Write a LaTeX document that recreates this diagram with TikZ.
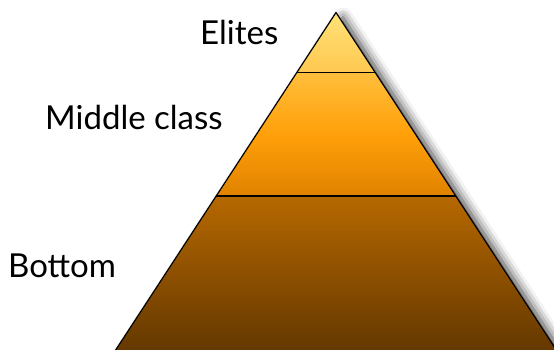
\documentclass[tikz,border=0pt]{standalone}
\usepackage{fontspec}
\setmainfont{Lato}
\usetikzlibrary{calc, shadows.blur}

\definecolor{eliteTop}{RGB}{255,226,120}
\definecolor{eliteBot}{RGB}{255,200,80}
\definecolor{midTop}{RGB}{255,190,60}
\definecolor{midMid}{RGB}{255,160,10}
\definecolor{midBot}{RGB}{225,130,0}
\definecolor{lowTop}{RGB}{182,104,0}
\definecolor{lowBot}{RGB}{100,56,0}

\begin{document}
\begin{tikzpicture}[x=1pt, y=-1pt,
    layer/.style={draw=black, line width=1.2pt, line join=round},
    divider/.style={draw=black, line width=1.4pt},
    tag/.style={font=\fontsize{33}{40}\selectfont, text=black, inner sep=0pt, anchor=base west},
]
\useasboundingbox (0,0) rectangle (554,350);

% corners of the pyramid
\coordinate (apex) at (336,12.5);
\coordinate (baseL) at (115,351);
\coordinate (baseR) at (557,351);
\coordinate (upL) at ($(apex)!0.178!(baseL)$);
\coordinate (upR) at ($(apex)!0.178!(baseR)$);
\coordinate (lowL) at ($(apex)!0.542!(baseL)$);
\coordinate (lowR) at ($(apex)!0.542!(baseR)$);

% soft shadow behind
\path[fill=white, blur shadow={shadow xshift=7pt, shadow yshift=-5pt,
    shadow blur radius=10pt, shadow opacity=80}]
    (apex) -- (baseL) -- (baseR) -- cycle;

% the three layers
\fill[top color=eliteTop, bottom color=eliteBot] (apex) -- (upL) -- (upR) -- cycle;
\fill[top color=midTop, bottom color=midBot, middle color=midMid] (upL) -- (lowL) -- (lowR) -- (upR) -- cycle;
\fill[top color=lowTop, bottom color=lowBot] (lowL) -- (baseL) -- (baseR) -- (lowR) -- cycle;

% outline and dividers
\draw[layer] (baseL) -- (apex) -- (baseR);
\draw[divider] (upL) -- (upR);
\draw[divider] (lowL) -- (lowR);

% labels
\node[tag] (elites) at (200,45) {Elites};
\node[tag] (middle) at (45,130) {Middle class};
\node[tag] (bottom) at (8,277) {Bottom};

\end{tikzpicture}
\end{document}
